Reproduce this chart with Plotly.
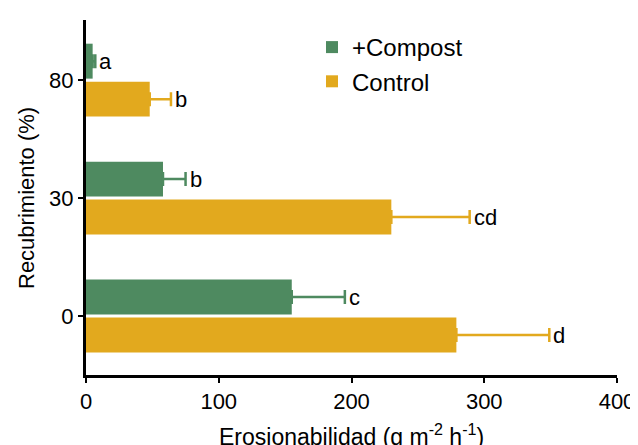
import plotly.graph_objects as go

categories = ["0", "30", "80"]
compost_vals = [155, 58, 5]
compost_err = [40, 17, 2]
compost_letters = ["c", "b", "a"]
control_vals = [279, 230, 48]
control_err = [70, 59, 16]
control_letters = ["d", "cd", "b"]

green = "#4e8a60"
gold = "#e2a91e"
pos = list(range(len(categories)))

# page is offset by the 8px body margin, so the figure is 8px smaller
W, H = 630, 437
L, R, T, B = 78, 21, 12, 70
plot_h = H - T - B

fig = go.Figure()
fig.add_trace(go.Bar(
    y=pos, x=control_vals, orientation="h", name="Control",
    marker=dict(color=gold, line=dict(width=0)),
    error_x=dict(type="data", symmetric=False, array=control_err,
                 arrayminus=[0] * len(control_err), color=gold, thickness=2.5, width=7),
))
fig.add_trace(go.Bar(
    y=pos, x=compost_vals, orientation="h", name="+Compost",
    marker=dict(color=green, line=dict(width=0)),
    error_x=dict(type="data", symmetric=False, array=compost_err,
                 arrayminus=[0] * len(compost_err), color=green, thickness=2.5, width=7),
))

annotations = []
for i in pos:
    annotations.append(dict(x=compost_vals[i] + compost_err[i], y=i + 0.161, text=compost_letters[i],
                            xanchor="left", yanchor="middle", showarrow=False, xshift=2,
                            font=dict(size=22, color="black")))
    annotations.append(dict(x=control_vals[i] + control_err[i], y=i - 0.161, text=control_letters[i],
                            xanchor="left", yanchor="middle", showarrow=False, xshift=2,
                            font=dict(size=22, color="black")))

annotations.append(dict(text="Erosionabilidad (g m<sup>-2</sup> h<sup>-1</sup>)", xref="paper", yref="paper",
                        x=0.5, y=0, yshift=-60, xanchor="center", yanchor="middle", showarrow=False,
                        font=dict(size=23, color="black")))
annotations.append(dict(text="Recubrimiento (%)", xref="paper", yref="paper", textangle=-90,
                        x=0, y=(367 - 190) / plot_h, xshift=-60, xanchor="center", yanchor="middle",
                        showarrow=False, font=dict(size=22, color="black")))

fig.update_layout(
    width=W, height=H,
    margin=dict(l=L, r=R, t=T, b=B, pad=0),
    paper_bgcolor="white", plot_bgcolor="white",
    font=dict(family="Liberation Sans, Arial, sans-serif", color="black"),
    barmode="group", bargap=0.356, bargroupgap=0.08,
    showlegend=True,
    legend=dict(x=(304 - L) / (W - L - R), y=(367 - 17) / plot_h, xanchor="left", yanchor="top",
                traceorder="reversed", font=dict(size=24), bgcolor="rgba(0,0,0,0)",
                itemsizing="constant", tracegroupgap=0),
    annotations=annotations,
    xaxis=dict(range=[0, 400], tickvals=[0, 100, 200, 300, 400], showgrid=False, zeroline=False,
               showline=True, linecolor="black", linewidth=3, ticks="outside", ticklen=5,
               tickwidth=2, tickcolor="black", tickfont=dict(size=22), automargin=False),
    yaxis=dict(range=[-0.5, 2.51], tickvals=pos, ticktext=categories, showgrid=False,
               zeroline=False, showline=True, linecolor="black", linewidth=3, ticks="outside",
               ticklen=5, tickwidth=2, tickcolor="black", tickfont=dict(size=22), automargin=False),
)

fig.write_html("out.html")
